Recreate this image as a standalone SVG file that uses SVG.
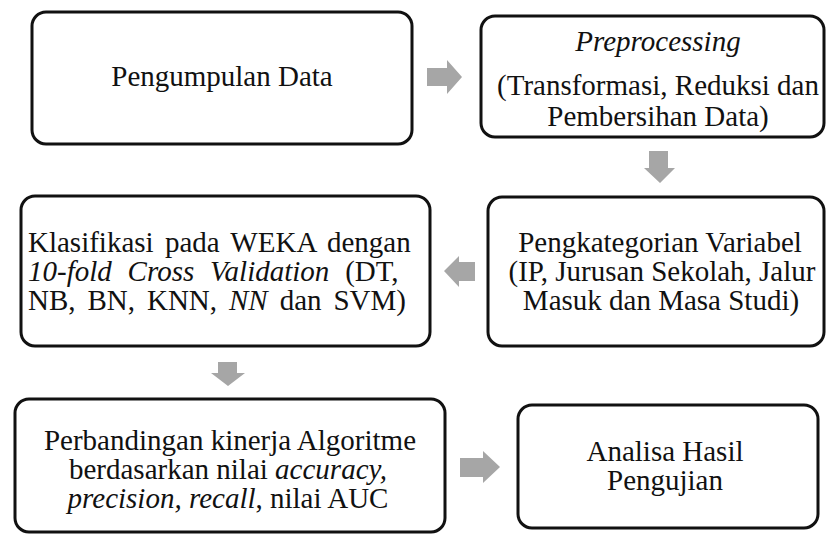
<svg xmlns="http://www.w3.org/2000/svg" width="826" height="536" viewBox="0 0 826 536">
<style>
.box{fill:#fff;stroke:#111;stroke-width:3}
.t{font-family:"Liberation Serif","Times New Roman",serif;font-size:29px;fill:#111}
.m{text-anchor:middle}
.i{font-style:italic}
.arr{fill:#a6a6a6}
</style>
<rect width="826" height="536" fill="#fff"/>
<g id="connectors">
<polygon class="arr" points="427,68 447,68 447,60 462,77 447,94 447,86 427,86"/>
<polygon class="arr" points="649,151 668,151 668,168 675,168 660,183 644,168 649,168"/>
<polygon class="arr" points="475,262 459,262 459,256 444,271 459,287 459,281 475,281"/>
<polygon class="arr" points="218,362 237,362 237,373 245,373 228,386 211,373 218,373"/>
<polygon class="arr" points="460,458 483,458 483,451 500,467 483,483 483,477 460,477"/>
</g>
<g id="node1">
<rect class="box" x="32" y="12" width="380" height="132" rx="14"/>
<text class="t m" x="222" y="86">Pengumpulan Data</text>
</g>
<g id="node2">
<rect class="box" x="481" y="16" width="343" height="121" rx="14"/>
<text class="t m i" x="658" y="51">Preprocessing</text>
<text class="t m" x="658" y="95">(Transformasi, Reduksi dan</text>
<text class="t m" x="658" y="126">Pembersihan Data)</text>
</g>
<g id="node3">
<rect class="box" x="21" y="196" width="409" height="150" rx="14"/>
<text class="t" x="28" y="252" word-spacing="4">Klasifikasi pada WEKA dengan</text>
<text class="t" x="28" y="281" word-spacing="8.6"><tspan class="i">10-fold Cross Validation</tspan> (DT,</text>
<text class="t" x="28" y="310" word-spacing="4.7">NB, BN, KNN, <tspan class="i">NN</tspan> dan SVM)</text>
</g>
<g id="node4">
<rect class="box" x="488" y="197" width="336" height="149" rx="14"/>
<text class="t m" x="660" y="252">Pengkategorian Variabel</text>
<text class="t m" x="662" y="281">(IP, Jurusan Sekolah, Jalur</text>
<text class="t m" x="661" y="310">Masuk dan Masa Studi)</text>
</g>
<g id="node5">
<rect class="box" x="15" y="399" width="430" height="133" rx="14"/>
<text class="t m" x="230" y="450">Perbandingan kinerja Algoritme</text>
<text class="t m" x="228" y="479">berdasarkan nilai <tspan class="i">accuracy,</tspan></text>
<text class="t m" x="228" y="508"><tspan class="i">precision, recall</tspan>, nilai AUC</text>
</g>
<g id="node6">
<rect class="box" x="518" y="405" width="300" height="123" rx="14"/>
<text class="t m" x="665" y="461">Analisa Hasil</text>
<text class="t m" x="665" y="490">Pengujian</text>
</g>
</svg>
